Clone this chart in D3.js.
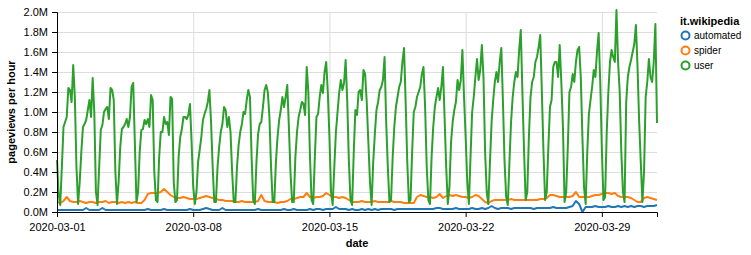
<!DOCTYPE html>
<html>
<head>
<meta charset="utf-8">
<script src="https://cdn.jsdelivr.net/npm/d3@7"></script>
<style>
body { margin: 0; background: #fff; }
text { font-family: "Liberation Sans", Arial, Helvetica, sans-serif; }
</style>
</head>
<body>
<script>
// it.wikipedia pageviews per hour, March 2020, values in millions
var seriesNames = ["automated", "spider", "user"];
var seriesColors = ["#1f77b4", "#ff7f0e", "#2ca02c"];
var legendTitle = "it.wikipedia";
var yTicks = [0, 0.2, 0.4, 0.6, 0.8, 1.0, 1.2, 1.4, 1.6, 1.8, 2.0];

// user: one row per day, readings every 2 hours (00,02,...,22)
var userDays = [
  [.52,.18,.07,.45,.85,.90,.95,1.24,1.22,1.10,1.47,1.15],
  [.45,.08,.30,.60,.85,.88,.92,1.02,1.12,.95,1.34,1.00],
  [.20,.07,.45,.82,.87,1.00,1.03,1.05,.93,1.24,1.22,1.12],
  [.40,.08,.30,.65,.83,.85,.88,.93,.85,.95,1.25,1.29],
  [.70,.10,.20,.60,.82,.83,.92,.88,.93,.85,1.17,1.12],
  [.40,.12,.10,.55,.80,.80,.95,.88,.90,.77,1.15,1.13],
  [.30,.10,.12,.55,.75,.83,.95,.95,.93,.97,1.08,.70],
  [.25,.08,.20,.50,.62,.75,.92,.98,1.03,1.10,1.22,.90],
  [.45,.10,.10,.45,.65,.80,.88,1.05,1.02,.85,.95,.80],
  [.40,.10,.10,.45,.67,.80,.88,1.00,.98,1.12,1.22,1.15],
  [.55,.12,.08,.50,.78,.88,.90,1.05,1.22,1.27,1.20,.95],
  [.45,.10,.10,.50,.75,.92,1.02,1.15,1.05,1.15,1.27,.85],
  [.39,.10,.10,.55,.80,.95,1.02,1.10,1.08,.97,1.45,1.20],
  [.55,.12,.08,.55,.95,.98,1.15,1.27,1.19,1.40,1.50,1.20],
  [.75,.20,.07,.45,.80,1.00,1.19,1.32,1.22,1.29,1.52,1.10],
  [.50,.12,.07,.60,1.02,.97,1.20,1.22,1.12,1.42,1.38,1.10],
  [.70,.30,.07,.50,.78,1.02,1.10,1.22,1.25,1.32,1.55,.90],
  [.45,.10,.12,.55,.85,1.05,1.15,1.25,1.30,1.50,1.64,1.10],
  [.50,.10,.12,.60,1.00,1.05,1.15,1.20,1.25,1.38,1.45,1.05],
  [.45,.12,.08,.55,.85,1.05,1.15,1.24,1.12,1.25,1.45,.95],
  [.45,.08,.25,.70,.90,1.02,1.10,1.32,1.22,1.32,1.62,1.15],
  [.75,.30,.08,.55,1.00,1.15,1.35,1.53,1.32,1.42,1.67,1.35],
  [.60,.20,.08,.50,.90,1.12,1.30,1.40,1.30,1.50,1.64,1.10],
  [.50,.15,.07,.50,.90,1.15,1.30,1.40,1.35,1.62,1.82,1.20],
  [.62,.12,.20,.75,1.15,1.30,1.35,1.50,1.55,1.65,1.77,1.20],
  [.60,.12,.20,.65,1.05,1.12,1.45,1.50,1.50,1.35,1.67,1.30],
  [.85,.10,.20,.65,1.20,1.25,1.38,1.30,1.50,1.62,1.65,1.35],
  [.75,.25,.08,.60,.98,1.12,1.25,1.42,1.35,1.60,1.79,1.30],
  [.62,.12,.15,.80,1.20,1.50,1.62,1.55,1.50,2.02,1.50,1.20],
  [.60,.20,.10,1.10,1.35,1.45,1.52,1.60,1.68,1.87,1.45,.90],
  [.50,.10,.40,1.15,1.30,1.53,1.35,1.30,1.50,1.88,.89]
];

// spider: one row per day, readings every 4 hours (00,04,...,20)
var spiderDays = [
  [.10,.09,.11,.15,.11,.10],[.10,.11,.10,.09,.10,.10],[.09,.10,.10,.11,.09,.10],
  [.10,.09,.10,.09,.10,.09],[.10,.09,.09,.12,.18,.19],[.19,.19,.20,.23,.20,.17],
  [.15,.14,.14,.15,.14,.13],[.13,.13,.14,.15,.16,.15],[.14,.13,.12,.12,.11,.11],
  [.11,.10,.10,.11,.10,.10],[.10,.10,.11,.17,.11,.10],[.10,.10,.09,.10,.10,.11],
  [.13,.13,.14,.15,.15,.19],[.15,.14,.15,.15,.16,.19],[.17,.15,.15,.14,.15,.14],
  [.12,.10,.10,.10,.11,.10],[.10,.10,.11,.10,.10,.10],[.10,.11,.10,.10,.10,.09],
  [.09,.09,.09,.15,.17,.16],[.15,.15,.14,.15,.18,.14],[.16,.17,.16,.17,.16,.15],
  [.15,.14,.15,.17,.16,.13],[.10,.09,.11,.12,.12,.12],[.12,.12,.13,.12,.12,.12],
  [.12,.12,.12,.12,.12,.13],[.13,.14,.17,.17,.16,.15],[.15,.15,.15,.16,.20,.15],
  [.15,.15,.15,.16,.17,.17],[.18,.19,.19,.18,.19,.16],[.15,.15,.15,.14,.12,.10],
  [.10,.14,.15,.14,.13,.12]
];

// automated: one row per day, readings every 4 hours
var automatedDays = [
  [.02,.02,.02,.02,.02,.02],[.02,.02,.02,.04,.02,.02],[.02,.02,.04,.02,.02,.02],
  [.02,.02,.02,.02,.02,.02],[.02,.02,.02,.02,.03,.02],[.02,.02,.02,.03,.02,.02],
  [.02,.02,.02,.02,.02,.03],[.02,.02,.02,.03,.04,.03],[.02,.02,.02,.04,.02,.02],
  [.02,.02,.02,.02,.02,.02],[.02,.02,.03,.02,.02,.02],[.02,.02,.02,.02,.03,.02],
  [.02,.03,.02,.02,.02,.02],[.03,.02,.03,.03,.02,.03],[.03,.03,.05,.03,.03,.03],
  [.02,.03,.02,.02,.03,.02],[.03,.02,.03,.02,.03,.03],[.03,.03,.02,.03,.03,.03],
  [.03,.03,.03,.03,.03,.03],[.03,.03,.03,.04,.04,.03],[.03,.03,.03,.04,.03,.03],
  [.03,.03,.04,.03,.03,.04],[.03,.04,.06,.04,.03,.04],[.04,.04,.03,.04,.04,.04],
  [.04,.04,.04,.03,.04,.04],[.04,.04,.04,.05,.04,.04],[.04,.04,.05,.06,.11,.08],
  [.00,.05,.05,.05,.06,.05],[.05,.05,.06,.05,.05,.06],[.05,.06,.05,.06,.05,.06],
  [.06,.05,.06,.06,.06,.07]
];

var startDate = Date.UTC(2020, 2, 1);
var HOUR = 3600 * 1000;

function toPoints(days, stepHours) {
  return days.flat().map(function(v, i) {
    return {t: new Date(startDate + i * stepHours * HOUR), v: v};
  });
}

var series = [
  toPoints(automatedDays, 4),
  toPoints(spiderDays, 4),
  toPoints(userDays, 2)
];

var width = 751, height = 255;
var margin = {left: 57, top: 12};
var plotW = 600, plotH = 200;

var svg = d3.select("body")
    .append("svg")
    .attr("width", width)
    .attr("height", height);

var g = svg.append("g")
    .attr("transform", "translate(" + margin.left + "," + margin.top + ")");

var x = d3.scaleUtc()
    .domain(d3.extent(series[2], function(d) { return d.t; }))
    .range([0, plotW]);

var y = d3.scaleLinear()
    .domain([0, 2])
    .range([plotH, 0]);

var xTicks = d3.utcWeek.range(x.domain()[0], x.domain()[1]);

// grid
g.append("g").selectAll("line")
    .data(yTicks)
    .enter().append("line")
    .attr("x1", 0).attr("x2", plotW)
    .attr("y1", function(d) { return y(d) + 0.5; })
    .attr("y2", function(d) { return y(d) + 0.5; })
    .attr("stroke", "#ddd");

g.append("g").selectAll("line")
    .data(xTicks)
    .enter().append("line")
    .attr("x1", function(d) { return x(d) + 0.5; })
    .attr("x2", function(d) { return x(d) + 0.5; })
    .attr("y1", 0).attr("y2", plotH)
    .attr("stroke", "#ddd");

// lines
var line = d3.line()
    .x(function(d) { return x(d.t); })
    .y(function(d) { return y(d.v); });

g.append("g").selectAll("path")
    .data(series)
    .enter().append("path")
    .attr("d", line)
    .attr("fill", "none")
    .attr("stroke", function(d, i) { return seriesColors[i]; })
    .attr("stroke-width", 2)
    .attr("stroke-linejoin", "round");

// axes
var xAxis = g.append("g")
    .attr("transform", "translate(0," + plotH + ")")
    .call(d3.axisBottom(x)
        .tickValues(xTicks)
        .tickSize(5)
        .tickPadding(6)
        .tickFormat(d3.utcFormat("%Y-%m-%d")));

var yAxis = g.append("g")
    .call(d3.axisLeft(y)
        .tickValues(yTicks)
        .tickSize(5)
        .tickPadding(4)
        .tickFormat(function(d) { return d.toFixed(1) + "M"; }));

[xAxis, yAxis].forEach(function(a) {
  a.selectAll("text").attr("font-size", 11).attr("fill", "#000")
      .attr("font-family", null);
  a.selectAll("line").attr("stroke", "#000");
  a.select(".domain").attr("stroke", "#000");
});

svg.append("text")
    .attr("x", margin.left + plotW / 2)
    .attr("y", 247)
    .attr("text-anchor", "middle")
    .attr("font-size", 11)
    .attr("font-weight", "bold")
    .text("date");

svg.append("text")
    .attr("transform", "translate(14.5," + (margin.top + plotH / 2) + ") rotate(-90)")
    .attr("text-anchor", "middle")
    .attr("font-size", 11)
    .attr("font-weight", "bold")
    .text("pageviews per hour");

// legend
var legend = svg.append("g").attr("transform", "translate(680,0)");

legend.append("text")
    .attr("x", 0)
    .attr("y", 25)
    .attr("font-size", 11)
    .attr("font-weight", "bold")
    .text(legendTitle);

var item = legend.selectAll(".item")
    .data(seriesNames)
    .enter().append("g")
    .attr("class", "item")
    .attr("transform", function(d, i) { return "translate(0," + (35.5 + i * 15) + ")"; });

item.append("circle")
    .attr("cx", 5.5)
    .attr("r", 4)
    .attr("fill", "none")
    .attr("stroke", function(d, i) { return seriesColors[i]; })
    .attr("stroke-width", 2);

item.append("text")
    .attr("x", 14)
    .attr("dy", "0.35em")
    .attr("font-size", 10)
    .text(function(d) { return d; });
</script>
</body>
</html>
